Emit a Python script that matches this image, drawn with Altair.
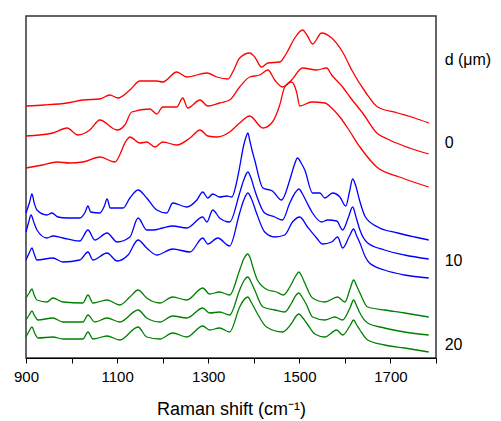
import altair as alt
import pandas as pd

# Raman shift (cm-1) and offset intensity (a.u.) for each spectrum
red1_x = [900, 940, 990, 1025, 1062, 1084, 1102, 1128, 1150, 1187, 1200, 1231, 1253, 1297, 1319, 1343, 1355, 1369, 1391, 1402, 1417, 1431, 1457, 1472, 1490, 1507, 1518, 1529, 1549, 1571, 1595, 1615, 1645, 1672, 1716, 1753, 1784]
red1_y = [252, 253, 255, 258, 259, 263, 260, 268, 277, 277, 276, 286, 281, 285, 281, 279, 287, 300, 305, 301, 291, 295, 296, 305, 320, 328, 322, 314, 325, 320, 306, 288, 266, 251, 245, 240, 235]

red2_x = [900, 959, 990, 1014, 1040, 1062, 1100, 1117, 1132, 1172, 1187, 1200, 1231, 1244, 1255, 1282, 1299, 1325, 1347, 1369, 1391, 1413, 1431, 1446, 1463, 1483, 1507, 1538, 1560, 1571, 1595, 1611, 1639, 1670, 1698, 1742, 1784]
red2_y = [222, 225, 230, 223, 228, 238, 228, 233, 246, 249, 244, 251, 251, 260, 250, 258, 252, 255, 258, 271, 281, 283, 288, 278, 271, 278, 290, 288, 290, 283, 271, 261, 245, 225, 218, 210, 204]

red3_x = [900, 937, 968, 996, 1025, 1062, 1095, 1121, 1128, 1150, 1165, 1183, 1200, 1231, 1260, 1282, 1299, 1319, 1347, 1369, 1391, 1420, 1441, 1457, 1468, 1483, 1494, 1501, 1527, 1556, 1571, 1589, 1606, 1633, 1670, 1720, 1784]
red3_y = [190, 193, 196, 195, 196, 201, 196, 218, 221, 215, 216, 211, 216, 213, 220, 228, 222, 221, 226, 235, 242, 230, 236, 253, 271, 276, 266, 252, 256, 255, 250, 241, 230, 211, 191, 181, 171]

blue1_x = [900, 908, 913, 918, 924, 946, 957, 970, 990, 1018, 1030, 1036, 1042, 1062, 1072, 1078, 1085, 1113, 1128, 1146, 1165, 1187, 1209, 1222, 1253, 1275, 1288, 1299, 1310, 1325, 1341, 1352, 1361, 1369, 1378, 1383, 1387, 1391, 1396, 1402, 1420, 1441, 1461, 1479, 1489, 1496, 1504, 1512, 1529, 1545, 1556, 1573, 1589, 1602, 1610, 1617, 1624, 1632, 1645, 1672, 1716, 1753, 1784]
blue1_y = [145, 156, 164, 155, 148, 143, 145, 141, 140, 140, 146, 152, 146, 145, 152, 159, 150, 150, 160, 168, 160, 148, 145, 155, 151, 158, 166, 160, 164, 161, 162, 161, 173, 191, 213, 221, 225, 218, 208, 198, 170, 167, 158, 178, 193, 200, 195, 188, 165, 165, 160, 165, 161, 152, 166, 179, 172, 158, 141, 131, 125, 121, 118]

blue2_x = [900, 906, 911, 917, 924, 946, 959, 981, 1018, 1036, 1051, 1078, 1100, 1128, 1146, 1165, 1179, 1200, 1222, 1253, 1288, 1297, 1310, 1325, 1347, 1369, 1378, 1387, 1394, 1402, 1424, 1446, 1463, 1479, 1492, 1499, 1507, 1516, 1529, 1549, 1562, 1582, 1595, 1608, 1617, 1625, 1633, 1650, 1687, 1731, 1784]
blue2_y = [126, 136, 143, 136, 128, 120, 122, 120, 117, 128, 118, 125, 116, 121, 140, 128, 128, 130, 132, 130, 141, 136, 148, 140, 136, 165, 178, 186, 180, 168, 145, 141, 138, 155, 166, 169, 164, 156, 145, 136, 138, 137, 128, 141, 151, 140, 128, 115, 108, 103, 99]

blue3_x = [900, 907, 913, 918, 924, 959, 981, 1018, 1036, 1047, 1078, 1100, 1124, 1146, 1165, 1187, 1222, 1260, 1288, 1299, 1321, 1347, 1369, 1378, 1387, 1394, 1406, 1424, 1446, 1468, 1485, 1501, 1518, 1538, 1551, 1571, 1584, 1595, 1610, 1619, 1626, 1633, 1645, 1654, 1687, 1731, 1784]
blue3_y = [98, 105, 110, 104, 98, 100, 96, 98, 106, 98, 105, 97, 103, 118, 110, 103, 109, 106, 120, 114, 120, 112, 145, 158, 165, 160, 145, 126, 121, 123, 136, 141, 131, 120, 114, 116, 121, 110, 122, 129, 122, 115, 101, 95, 88, 83, 80]

green1_x = [900, 907, 913, 918, 924, 946, 959, 981, 1025, 1036, 1047, 1078, 1106, 1128, 1146, 1165, 1194, 1222, 1253, 1288, 1303, 1325, 1347, 1369, 1378, 1387, 1392, 1398, 1408, 1431, 1450, 1465, 1479, 1492, 1499, 1505, 1512, 1529, 1556, 1584, 1600, 1612, 1619, 1626, 1633, 1650, 1687, 1731, 1784]
green1_y = [60, 65, 69, 63, 58, 56, 60, 56, 55, 63, 55, 58, 53, 61, 68, 60, 55, 61, 58, 70, 64, 66, 63, 88, 99, 104, 100, 91, 78, 68, 66, 63, 71, 82, 86, 82, 75, 60, 56, 61, 56, 70, 78, 72, 65, 51, 48, 45, 41]

green2_x = [900, 907, 913, 919, 926, 959, 981, 1025, 1036, 1051, 1078, 1106, 1146, 1165, 1194, 1222, 1253, 1288, 1303, 1325, 1347, 1369, 1378, 1387, 1394, 1402, 1420, 1446, 1468, 1483, 1493, 1499, 1506, 1516, 1529, 1556, 1578, 1595, 1612, 1619, 1626, 1633, 1650, 1687, 1731, 1784]
green2_y = [38, 43, 47, 42, 38, 40, 36, 36, 43, 36, 40, 36, 48, 40, 36, 42, 40, 50, 45, 46, 43, 68, 77, 81, 76, 68, 51, 48, 46, 55, 63, 65, 61, 53, 41, 38, 41, 38, 51, 58, 52, 45, 35, 30, 26, 23]

green3_x = [900, 907, 913, 919, 926, 959, 981, 1025, 1036, 1047, 1078, 1106, 1146, 1165, 1194, 1222, 1253, 1288, 1303, 1325, 1347, 1369, 1378, 1387, 1394, 1406, 1428, 1463, 1485, 1493, 1499, 1506, 1516, 1534, 1556, 1582, 1595, 1612, 1619, 1626, 1633, 1650, 1687, 1731, 1784]
green3_y = [21, 27, 31, 25, 20, 21, 19, 19, 26, 19, 22, 18, 31, 21, 19, 25, 21, 32, 28, 30, 26, 51, 58, 61, 56, 46, 31, 26, 36, 42, 44, 41, 35, 24, 21, 28, 23, 33, 38, 33, 28, 18, 13, 10, 6]

series = [
    ("r1", "0 µm", red1_x, red1_y),
    ("r2", "0 µm", red2_x, red2_y),
    ("r3", "0 µm", red3_x, red3_y),
    ("b1", "10 µm", blue1_x, blue1_y),
    ("b2", "10 µm", blue2_x, blue2_y),
    ("b3", "10 µm", blue3_x, blue3_y),
    ("g1", "20 µm", green1_x, green1_y),
    ("g2", "20 µm", green2_x, green2_y),
    ("g3", "20 µm", green3_x, green3_y),
]

rows = []
for sid, depth, xs, ys in series:
    for xv, yv in zip(xs, ys):
        rows.append({"trace": sid, "depth": depth, "shift": xv, "intensity": yv})
df = pd.DataFrame(rows)

label_text = ["d (μm)", "0", "10", "20"]
label_shift = [1819, 1819, 1819, 1819]
label_int = [298, 215, 97, 13]
labels = pd.DataFrame({"t": label_text, "shift": label_shift, "intensity": label_int})

xscale = alt.Scale(domain=[900, 1800], nice=False, zero=False)
yscale = alt.Scale(domain=[0, 342], nice=False, zero=False)

lines = alt.Chart(df).mark_line(strokeWidth=1.3, interpolate="monotone").encode(
    x=alt.X("shift:Q", scale=xscale,
            title="Raman shift (cm⁻¹)",
            axis=alt.Axis(values=list(range(900, 1801, 100)),
                          labelExpr="datum.value % 200 == 100 ? datum.label : ''",
                          format="d", grid=False, tickSize=5, labelPadding=6,
                          labelFontSize=15, titleFontSize=18, titleFontWeight="normal",
                          titlePadding=16, domainColor="#000", tickColor="#000",
                          labelColor="#000", titleColor="#000", labelFlush=False)),
    y=alt.Y("intensity:Q", scale=yscale, axis=None),
    color=alt.Color("depth:N", scale=alt.Scale(domain=["0 µm", "10 µm", "20 µm"],
                                               range=["#ff0000", "#0000ff", "#008000"]),
                    legend=None),
    detail="trace:N",
)

text = alt.Chart(labels).mark_text(align="left", baseline="middle", fontSize=16,
                                   color="#000", clip=False).encode(
    x=alt.X("shift:Q", scale=xscale),
    y=alt.Y("intensity:Q", scale=yscale),
    text="t:N",
)

chart = alt.layer(lines, text).properties(
    width=410, height=342,
    autosize=alt.AutoSizeParams(type="none"),
    padding={"left": 26, "top": 16, "right": 65, "bottom": 63},
).configure(font="Liberation Sans").configure_view(stroke="#333", strokeWidth=1.5)

chart.save("out.html", embed_options={"renderer": "svg", "actions": False})
